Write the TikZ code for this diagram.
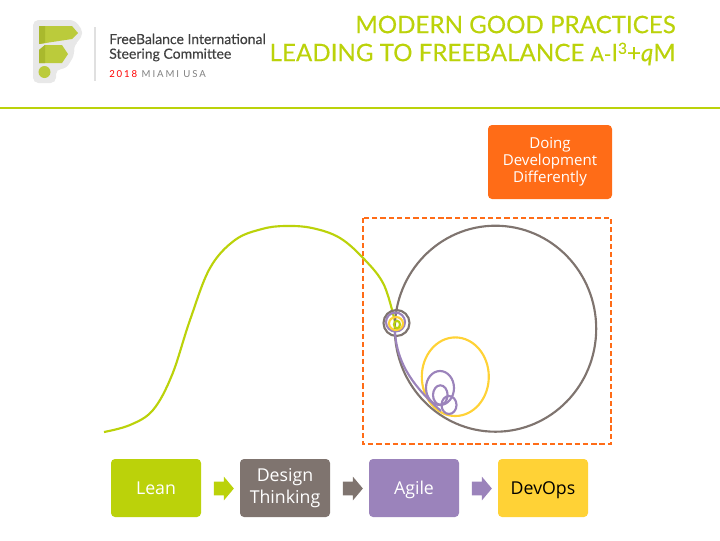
\documentclass[tikz,border=0pt]{standalone}
\usepackage{fontspec}
\setmainfont{Open Sans}
\newfontfamily\headfont[FakeBold=0.25]{Lato}
\newfontfamily\spacedfont[LetterSpace=20]{Lato}
\usetikzlibrary{shapes.arrows}
\definecolor{fbgreen}{HTML}{BBD20A}
\definecolor{fbgrey}{HTML}{7F746F}
\definecolor{fbpurple}{HTML}{9B83BB}
\definecolor{fbyellow}{HTML}{FFD236}
\definecolor{fborange}{HTML}{FF6C17}
\tikzset{
    stagebox/.style={rounded corners=3pt, minimum width=67.5pt, minimum height=43.5pt,
        align=center, text=white, font=\fontsize{13.3}{16.5}\selectfont, inner sep=0pt,
        execute at begin node=\rule{0pt}{13pt}, execute at end node=\rule[-3.4pt]{0pt}{3.4pt}},
    stagearrow/.style={single arrow, single arrow head extend=3.75pt, single arrow tip angle=100,
        minimum height=15pt, inner xsep=0pt, inner ysep=4.9pt, outer sep=0pt},
    loopline/.style={line width=1.6pt}
}
\begin{document}
\begin{tikzpicture}[x=0.75pt,y=-0.75pt]
    \useasboundingbox (0,0) rectangle (720,540);
    % logo
    \fill[black!9, rounded corners=4pt] (33,20) -- (75,20) -- (84,33) -- (76,44) -- (73,47) -- (75,54) -- (66,69) -- (56,69) -- (56,83) -- (33,83) -- cycle;
    \fill[white!15!fbgreen!85!gray] (39,26) -- (72,26) -- (78,33) -- (72,39) -- (39,44) -- cycle;
    \fill[white!15!fbgreen!85!gray] (39,50) -- (45,45) -- (62,45) -- (68,54) -- (62,63) -- (39,63) -- cycle;
    \fill[fbgreen!70!gray] (39,26) -- (45,26) -- (45,43) -- (39,44) -- cycle;
    \fill[fbgreen!70!gray] (39,50) -- (45,45) -- (45,63) -- (39,63) -- cycle;
    \fill[white!15!fbgreen!85!gray] (44.5,72) circle (6);
    \draw[black!12, line width=0.9pt] (95,27) -- (95,81);
    % header texts
    \node[anchor=west, inner sep=0pt, align=left, text=black!75, font=\headfont\fontsize{10.5}{11}\selectfont] (committee) at (109,47.5)
        {FreeBalance International\\Steering Committee};
    \node[anchor=west, inner sep=0pt, text=gray, font=\spacedfont\fontsize{7.2}{8}\selectfont] (place) at (109,74)
        {\textcolor{red}{2018} MIAMI USA};
    \node[anchor=east, inner sep=0pt, align=right, text=fbgreen, font=\headfont\fontsize{18.1}{21}\selectfont] (title) at (676,40.5)
        {MODERN GOOD PRACTICES\\LEADING TO FREEBALANCE {\fontsize{15}{21}\selectfont A-}I\raisebox{5.5pt}{\fontsize{11.5}{11.5}\selectfont 3}+\textit{q}M};
    \fill[fbgreen] (0,107) rectangle (720,109);
    % top box
    \node[fill=fborange, rounded corners=3pt, minimum width=93pt, minimum height=55.5pt, align=center,
        text=white, font=\fontsize{11.3}{12.8}\selectfont, inner sep=0pt,
        execute at begin node=\rule{0pt}{9.6pt}] (doing) at (550,162)
        {Doing\\Development\\Differently};
    \draw[fborange, line width=1.5pt, dash pattern=on 4pt off 2.2pt] (362.5,218) rectangle (611,444);
    % s curve
    \draw[fbgreen, line width=1.6pt] plot[smooth, tension=0.6] coordinates {(104,432) (130,425) (153,410) (172,375) (190,320)
        (210,268) (235,240) (262,229) (285,226) (312,228) (340,238) (365,260) (384,285) (395,322)};
    % loops
    \draw[fbgrey, loopline] (495.5,328.7) ellipse (100.7 and 103);
    \draw[fbgrey, loopline] (396.5,323) circle (13);
    \draw[fbpurple, loopline] (395.5,322) circle (9.5);
    \draw[fbyellow, loopline] (396,323.5) ellipse (7 and 6.5);
    \draw[fbgreen, loopline] (397,324.5) ellipse (3 and 3.7);
    \draw[fbyellow, loopline] (455.3,376.7) ellipse (33.5 and 39.3);
    \draw[fbpurple, loopline] (440,388) ellipse (14 and 17);
    \draw[fbpurple, loopline] (440.3,395) ellipse (7.3 and 9.7);
    \draw[fbpurple, loopline] (449,405) ellipse (7.5 and 9);
    \draw[fbpurple, loopline] (395,332) .. controls (397,365) and (415,388) .. (441,411);
    % stages
    \node[stagebox, fill=fbgreen] (lean) at (156,488) {Lean};
    \node[stagebox, fill=fbgrey] (design) at (285,488) {Design\\Thinking};
    \node[stagebox, fill=fbpurple] (agile) at (414,488) {Agile};
    \node[stagebox, fill=fbyellow, text=black] (devops) at (543,488) {DevOps};
    \node[stagearrow, fill=fbgreen] (arrow1) at (221,488.5) {};
    \node[stagearrow, fill=fbgrey] (arrow2) at (350,488.5) {};
    \node[stagearrow, fill=fbpurple] (arrow3) at (479,488.5) {};
\end{tikzpicture}
\end{document}
